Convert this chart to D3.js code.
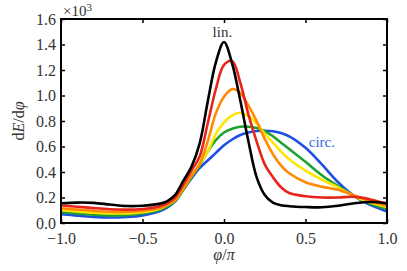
<!DOCTYPE html>
<html>
<head>
<meta charset="utf-8">
<script src="https://cdn.jsdelivr.net/npm/d3@7"></script>
<style>
  html, body { margin: 0; padding: 0; background: #fff; }
  svg { display: block; }
  svg text { font-family: "Liberation Serif", "DejaVu Serif", serif !important; }
</style>
</head>
<body>
<div id="chart"></div>
<script>
const W = 407, H = 271;
const margin = { top: 19, right: 20, bottom: 48, left: 61 };

// phi / pi sample positions shared by all curves
const phi = [-1, -0.9, -0.8, -0.7, -0.6, -0.5, -0.4, -0.35, -0.3, -0.25, -0.2, -0.15, -0.1, -0.05,
  0, 0.05, 0.1, 0.15, 0.2, 0.25, 0.3, 0.35, 0.4, 0.5, 0.6, 0.7, 0.8, 0.9, 1];

// dE/dphi in units of 10^3, from linear (black) to circular (blue)
const linear = [0.155, 0.16, 0.158, 0.145, 0.133, 0.135, 0.15, 0.17, 0.22, 0.33, 0.44, 0.62, 0.95, 1.26,
  1.42, 1.25, 0.96, 0.64, 0.36, 0.22, 0.16, 0.14, 0.132, 0.125, 0.123, 0.135, 0.155, 0.165, 0.155];
const ell1 = [0.137, 0.128, 0.117, 0.108, 0.105, 0.11, 0.13, 0.155, 0.2, 0.3, 0.41, 0.52, 0.78, 1.05,
  1.24, 1.27, 1.1, 0.85, 0.64, 0.46, 0.36, 0.28, 0.235, 0.21, 0.2, 0.2, 0.205, 0.185, 0.15];
const ell2 = [0.115, 0.105, 0.095, 0.088, 0.088, 0.095, 0.115, 0.14, 0.18, 0.27, 0.37, 0.46, 0.64, 0.86,
  0.99, 1.05, 1.02, 0.92, 0.8, 0.66, 0.54, 0.45, 0.39, 0.32, 0.285, 0.26, 0.215, 0.17, 0.135];
const ell3 = [0.1, 0.09, 0.08, 0.075, 0.075, 0.085, 0.11, 0.14, 0.18, 0.27, 0.37, 0.46, 0.56, 0.7,
  0.79, 0.845, 0.865, 0.84, 0.78, 0.7, 0.63, 0.56, 0.5, 0.41, 0.34, 0.28, 0.21, 0.16, 0.125];
const ell4 = [0.086, 0.075, 0.065, 0.06, 0.062, 0.075, 0.1, 0.13, 0.17, 0.26, 0.36, 0.45, 0.56, 0.65,
  0.71, 0.74, 0.755, 0.755, 0.745, 0.72, 0.68, 0.63, 0.58, 0.48, 0.375, 0.29, 0.21, 0.15, 0.11];
const circular = [0.07, 0.058, 0.048, 0.043, 0.047, 0.06, 0.09, 0.12, 0.17, 0.26, 0.35, 0.43, 0.49, 0.55,
  0.61, 0.655, 0.69, 0.71, 0.722, 0.724, 0.72, 0.705, 0.68, 0.59, 0.46, 0.32, 0.21, 0.14, 0.09];

const series = [circular, ell4, ell3, ell2, ell1, linear];
const colors = ["#1f4fe0", "#1fa22b", "#ffe600", "#ff8a00", "#e8251b", "#000000"];

const xTicks = [-1, -0.5, 0, 0.5, 1];
const yTicks = [0, 0.2, 0.4, 0.6, 0.8, 1.0, 1.2, 1.4, 1.6];

const iw = W - margin.left - margin.right;
const ih = H - margin.top - margin.bottom;
const serif = "'Liberation Serif', 'DejaVu Serif', serif";

const svg = d3.select("#chart").append("svg")
  .attr("width", W)
  .attr("height", H)
  .attr("font-family", serif);

const g = svg.append("g")
  .attr("transform", `translate(${margin.left},${margin.top})`);

const x = d3.scaleLinear().domain([-1, 1]).range([0, iw]);
const y = d3.scaleLinear().domain([0, 1.6]).range([ih, 0]);

const fmt = d => d3.format(".1f")(d).replace("-", "\u2212");

const line = d3.line()
  .x((d, i) => x(phi[i]))
  .y(d => y(d))
  .curve(d3.curveCatmullRom.alpha(0.5));

g.append("defs").append("clipPath").attr("id", "clip")
  .append("rect").attr("width", iw).attr("height", ih);

g.append("g").attr("clip-path", "url(#clip)")
  .selectAll("path")
  .data(series)
  .join("path")
  .attr("d", d => line(d))
  .attr("fill", "none")
  .attr("stroke", (d, i) => colors[i])
  .attr("stroke-width", 2.6)
  .attr("stroke-linejoin", "round");

function styleAxis(sel, show) {
  sel.attr("font-family", serif);
  sel.select(".domain").remove();
  sel.selectAll(".tick line").attr("stroke", "#000").attr("stroke-width", 1.5);
  sel.selectAll(".tick text")
    .attr("fill", "#333")
    .style("font-family", serif)
    .style("font-size", "16px")
    .attr("display", show ? null : "none");
}

g.append("g").attr("transform", `translate(0,${ih})`)
  .call(d3.axisBottom(x).tickValues(xTicks).tickFormat(fmt).tickSizeInner(-4).tickSizeOuter(0).tickPadding(10))
  .call(s => styleAxis(s, true));
g.append("g")
  .call(d3.axisTop(x).tickValues(xTicks).tickSizeInner(-4).tickSizeOuter(0))
  .call(s => styleAxis(s, false));
g.append("g")
  .call(d3.axisLeft(y).tickValues(yTicks).tickFormat(fmt).tickSizeInner(-4).tickSizeOuter(0).tickPadding(5))
  .call(s => styleAxis(s, true));
g.append("g").attr("transform", `translate(${iw},0)`)
  .call(d3.axisRight(y).tickValues(yTicks).tickSizeInner(-4).tickSizeOuter(0))
  .call(s => styleAxis(s, false));

g.append("rect")
  .attr("width", iw).attr("height", ih)
  .attr("fill", "none").attr("stroke", "#000").attr("stroke-width", 2);

// exponent
const ex = g.append("text").attr("x", 2).attr("y", -3)
  .attr("fill", "#333").style("font-size", "15px");
ex.append("tspan").text("\u00d710");
ex.append("tspan").attr("dy", -5).style("font-size", "11px").text("3");

// curve labels
g.append("text").attr("x", x(-0.01)).attr("y", y(1.455))
  .attr("text-anchor", "middle").attr("fill", "#333").style("font-size", "15px").text("lin.");
g.append("text").attr("x", x(0.52)).attr("y", y(0.6))
  .attr("fill", "#3a6ae6").style("font-size", "15px").text("circ.");

// axis titles
g.append("text")
  .attr("transform", `translate(${-37},${ih / 2}) rotate(-90)`)
  .attr("text-anchor", "middle").attr("fill", "#333").style("font-size", "16px")
  .call(t => {
    t.append("tspan").text("d");
    t.append("tspan").style("font-style", "italic").text("E");
    t.append("tspan").text("/d");
    t.append("tspan").style("font-style", "italic").text("\u03c6");
  });

g.append("text")
  .attr("x", iw / 2).attr("y", ih + 37)
  .attr("text-anchor", "middle").attr("fill", "#333").style("font-size", "16px")
  .call(t => {
    t.append("tspan").style("font-style", "italic").text("\u03c6");
    t.append("tspan").text("/");
    t.append("tspan").style("font-style", "italic").text("\u03c0");
  });
</script>
</body>
</html>
